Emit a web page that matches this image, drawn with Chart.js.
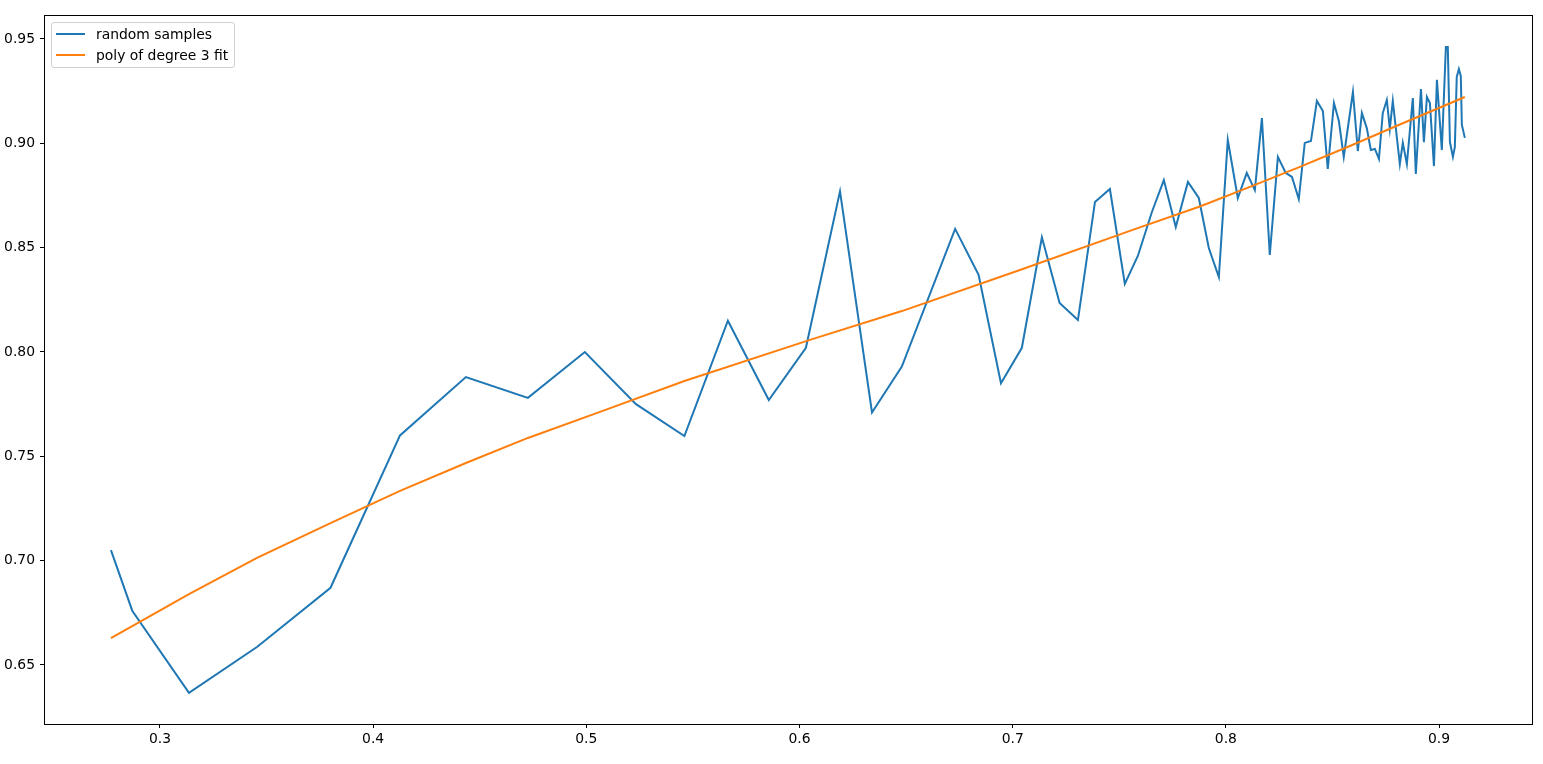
<!DOCTYPE html>
<html>
<head>
<meta charset="utf-8">
<script src="https://cdn.jsdelivr.net/npm/chart.js@4.4.1/dist/chart.umd.min.js"></script>
<style>
  html, body { margin: 0; padding: 0; background: #fff; }
  #wrap { position: relative; width: 1543px; height: 764px; }
  #legend {
    position: absolute; left: 51px; top: 22px;
    border: 1px solid #d0d0d0; border-radius: 3px; background: rgba(255,255,255,0.8);
    padding: 0 6px 2px 4px;
    font-family: "DejaVu Sans", sans-serif; font-size: 13.9px; color: #000;
  }
  #legend .row { display: flex; align-items: center; height: 21px; }
  #legend .swatch { width: 29px; height: 2px; margin-right: 11px; }
</style>
</head>
<body>
<div id="wrap">
  <canvas id="chart" width="1543" height="764"></canvas>
  <div id="legend"></div>
</div>
<script>
// donnees
const sampleX = [0.277, 0.287, 0.3136, 0.3455, 0.380, 0.4126, 0.4435, 0.4726, 0.4993, 0.5233,
  0.546, 0.5664, 0.5856, 0.603, 0.619, 0.634, 0.648, 0.673, 0.684, 0.6945,
  0.7043, 0.7137, 0.722, 0.7306, 0.7386, 0.7456, 0.7526, 0.7587, 0.7653, 0.7709,
  0.7765, 0.7822, 0.7873, 0.792, 0.7967, 0.8009, 0.8056, 0.8098, 0.8136, 0.8169,
  0.8206, 0.8244, 0.8281, 0.8310, 0.8342, 0.8370, 0.8399, 0.8427, 0.8455, 0.8478,
  0.8507, 0.8530, 0.8553, 0.8596, 0.8619, 0.8638, 0.8661, 0.8680, 0.8699, 0.8718,
  0.8736, 0.8755, 0.8769, 0.8783, 0.8816, 0.8830, 0.8849, 0.8877, 0.8891, 0.8915,
  0.8929, 0.8943, 0.8957, 0.8976, 0.8990, 0.9013, 0.9032, 0.9041, 0.9051, 0.9065,
  0.9074, 0.9083, 0.9093, 0.9102, 0.9107, 0.9121];
const sampleY = [0.705, 0.676, 0.6366, 0.6586, 0.687, 0.760, 0.788, 0.778, 0.800, 0.775,
  0.7597, 0.815, 0.777, 0.802, 0.877, 0.771, 0.793, 0.859, 0.837, 0.785,
  0.802, 0.855, 0.8235, 0.8153, 0.8719, 0.8781, 0.8326, 0.846, 0.8671, 0.8824,
  0.8599, 0.8815, 0.8738, 0.8498, 0.8359, 0.9016, 0.8738, 0.8858, 0.8776, 0.9121,
  0.8465, 0.8935, 0.8858, 0.8839, 0.8733, 0.9002, 0.9011, 0.9203, 0.9155, 0.8877,
  0.9193, 0.9107, 0.8935, 0.9246, 0.8963, 0.9145, 0.9073, 0.8968, 0.8973, 0.8925,
  0.9145, 0.9208, 0.9069, 0.9203, 0.8901, 0.9002, 0.8901, 0.9217, 0.8853, 0.9260,
  0.9006, 0.9222, 0.9193, 0.8891, 0.9304, 0.8968, 0.9462, 0.9462, 0.9006, 0.8935,
  0.8982, 0.9318, 0.9356, 0.9323, 0.9088, 0.9026];

const fitX = [0.277, 0.3136, 0.3455, 0.380, 0.4126, 0.4435, 0.4726, 0.5064, 0.546, 0.6049,
  0.648, 0.7034, 0.7573, 0.7878, 0.8113, 0.8347, 0.8582, 0.8816, 0.9121];
const fitY = [0.6629, 0.684, 0.7013, 0.718, 0.7334, 0.7468, 0.7588, 0.7713, 0.7861, 0.8058,
  0.8196, 0.8393, 0.8589, 0.8697, 0.8791, 0.8887, 0.8987, 0.9090, 0.9222];

const xTicks = [0.3, 0.4, 0.5, 0.6, 0.7, 0.8, 0.9];
const yTicks = [0.65, 0.70, 0.75, 0.80, 0.85, 0.90, 0.95];

const seriesLabels = ["random samples", "poly of degree 3 fit"];
const seriesColors = ["#1f77b4", "#ff7f0e"];

function toPoints(xs, ys) {
  return xs.map((x, i) => ({ x: x, y: ys[i] }));
}

// cadre noir autour de la zone du graphique
const frame = {
  id: "frame",
  afterDraw(chart) {
    const a = chart.chartArea;
    const ctx = chart.ctx;
    ctx.save();
    ctx.strokeStyle = "#000";
    ctx.lineWidth = 1;
    ctx.strokeRect(Math.round(a.left) + 0.5, Math.round(a.top) + 0.5,
      Math.round(a.right - a.left), Math.round(a.bottom - a.top));
    ctx.restore();
  }
};

const font = { family: "DejaVu Sans", size: 13.9 };

new Chart(document.getElementById("chart"), {
  type: "line",
  data: {
    datasets: [
      { label: seriesLabels[0], data: toPoints(sampleX, sampleY), borderColor: seriesColors[0],
        borderWidth: 2, pointRadius: 0, tension: 0, order: 1 },
      { label: seriesLabels[1], data: toPoints(fitX, fitY), borderColor: seriesColors[1],
        borderWidth: 2, pointRadius: 0, tension: 0, order: 0 }
    ]
  },
  options: {
    responsive: false,
    animation: false,
    layout: { padding: { top: 15, right: 11, left: 0, bottom: 0 } },
    plugins: { legend: { display: false }, tooltip: { enabled: false } },
    scales: {
      x: {
        type: "linear", min: 0.2456, max: 0.9436,
        afterBuildTicks: s => { s.ticks = xTicks.map(v => ({ value: v })); },
        afterFit: s => { s.height = 40; },
        grid: { drawOnChartArea: false, drawTicks: true, tickLength: 4, color: "#000" },
        border: { display: true, color: "#000" },
        ticks: { font: font, color: "#000", padding: 3, maxRotation: 0,
          callback: v => v.toFixed(1) }
      },
      y: {
        type: "linear", min: 0.6217, max: 0.9615,
        afterBuildTicks: s => { s.ticks = yTicks.map(v => ({ value: v })); },
        afterFit: s => { s.width = 44; },
        grid: { drawOnChartArea: false, drawTicks: true, tickLength: 4, color: "#000" },
        border: { display: true, color: "#000" },
        ticks: { font: font, color: "#000", padding: 5,
          callback: v => v.toFixed(2) }
      }
    }
  },
  plugins: [frame]
});

// legende en html
const legend = document.getElementById("legend");
seriesLabels.forEach((lab, i) => {
  const row = document.createElement("div");
  row.className = "row";
  row.innerHTML = `<span class="swatch" style="background:${seriesColors[i]}"></span><span>${lab}</span>`;
  legend.appendChild(row);
});
</script>
</body>
</html>
